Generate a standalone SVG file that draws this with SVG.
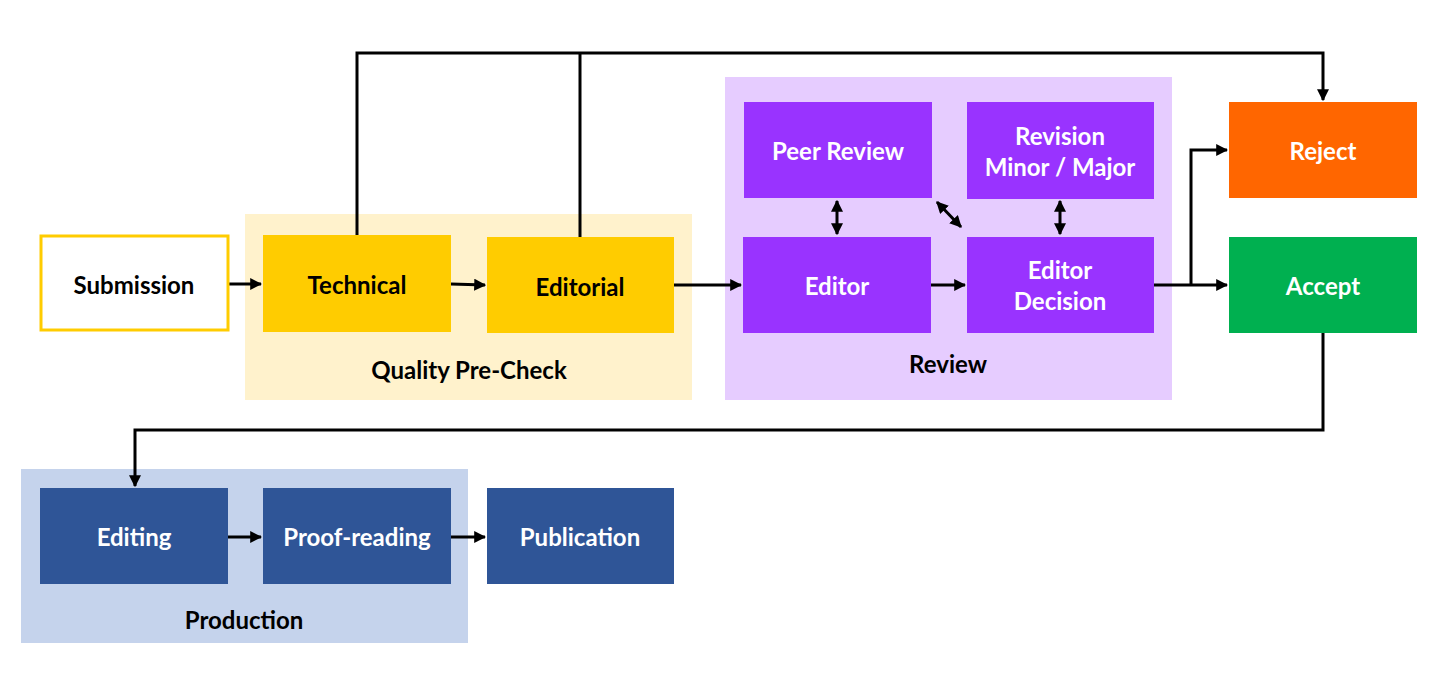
<svg xmlns="http://www.w3.org/2000/svg" width="1440" height="700" viewBox="0 0 1440 700">
<style>
text{font-family:Lato,"Open Sans","Liberation Sans",sans-serif;font-weight:bold;font-size:24px;text-anchor:middle;dominant-baseline:central}
.w{fill:#fff}.k{fill:#000}
.c{fill:none;stroke:#000;stroke-width:3}
</style>
<defs>
<marker id="a" viewBox="0 0 10 10" refX="9" refY="5" markerWidth="4" markerHeight="4" orient="auto-start-reverse"><path d="M0,0L10,5L0,10z" fill="#000"/></marker>
</defs>
<rect width="1440" height="700" fill="#fff"/>
<g id="group-quality"><rect x="245" y="214" width="447" height="186" fill="#FFF2CC"/><text x="469" y="369" class="k">Quality Pre-Check</text></g>
<g id="group-review"><rect x="725" y="77" width="447" height="323" fill="#E6CCFF"/><text x="948" y="363" class="k">Review</text></g>
<g id="group-production"><rect x="21" y="469" width="447" height="174" fill="#C5D3EC"/><text x="244" y="619" class="k">Production</text></g>
<g id="connectors">
<path class="c" d="M357,235V53H1323V100" marker-end="url(#a)"/>
<path class="c" d="M580,237V53"/>
<path class="c" d="M229,284H261" marker-end="url(#a)"/>
<path class="c" d="M451,284L485,285" marker-end="url(#a)"/>
<path class="c" d="M674,285H741" marker-end="url(#a)"/>
<path class="c" d="M931,285H965" marker-end="url(#a)"/>
<path class="c" d="M837,201V234" marker-start="url(#a)" marker-end="url(#a)"/>
<path class="c" d="M1060,201V234" marker-start="url(#a)" marker-end="url(#a)"/>
<path class="c" d="M937,202L961,227" marker-start="url(#a)" marker-end="url(#a)"/>
<path class="c" d="M1154,285H1227" marker-end="url(#a)"/>
<path class="c" d="M1191,285V150H1227" marker-end="url(#a)"/>
<path class="c" d="M1323,333V430H135V486" marker-end="url(#a)"/>
<path class="c" d="M228,537H261" marker-end="url(#a)"/>
<path class="c" d="M451,537H485" marker-end="url(#a)"/>
</g>
<g id="submission"><rect x="41" y="236" width="187" height="94" fill="#fff" stroke="#FFCC00" stroke-width="3"/><text x="134" y="284" class="k">Submission</text></g>
<g id="technical"><rect x="263" y="235" width="188" height="97" fill="#FFCC00"/><text x="357" y="284" class="k">Technical</text></g>
<g id="editorial"><rect x="487" y="237" width="187" height="96" fill="#FFCC00"/><text x="580" y="286" class="k">Editorial</text></g>
<g id="peer-review"><rect x="744" y="102" width="188" height="96" fill="#9933FF"/><text x="838" y="150" class="w">Peer Review</text></g>
<g id="revision"><rect x="967" y="102" width="187" height="97" fill="#9933FF"/><text x="1060" y="135" class="w">Revision</text><text x="1060" y="166" class="w">Minor / Major</text></g>
<g id="editor"><rect x="743" y="237" width="188" height="96" fill="#9933FF"/><text x="837" y="285" class="w">Editor</text></g>
<g id="editor-decision"><rect x="967" y="237" width="187" height="96" fill="#9933FF"/><text x="1060" y="269" class="w">Editor</text><text x="1060" y="300" class="w">Decision</text></g>
<g id="reject"><rect x="1229" y="102" width="188" height="96" fill="#FF6600"/><text x="1323" y="150" class="w">Reject</text></g>
<g id="accept"><rect x="1229" y="237" width="188" height="96" fill="#00B050"/><text x="1323" y="285" class="w">Accept</text></g>
<g id="editing"><rect x="40" y="488" width="188" height="96" fill="#2F5597"/><text x="134" y="536" class="w">Editing</text></g>
<g id="proof-reading"><rect x="263" y="488" width="188" height="96" fill="#2F5597"/><text x="357" y="536" class="w">Proof-reading</text></g>
<g id="publication"><rect x="487" y="488" width="187" height="96" fill="#2F5597"/><text x="580" y="536" class="w">Publication</text></g>
</svg>
